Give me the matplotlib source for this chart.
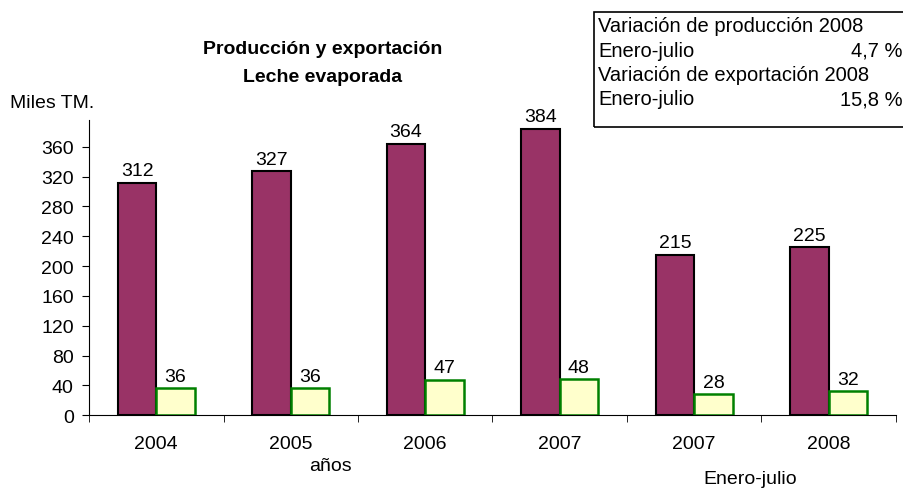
import matplotlib.pyplot as plt
import numpy as np

plt.rcParams["font.family"] = ["Liberation Sans", "DejaVu Sans"]

years = ["2004", "2005", "2006", "2007", "2007", "2008"]
produccion = [312, 327, 364, 384, 215, 225]
exportacion = [36, 36, 47, 48, 28, 32]
yticks = [0, 40, 80, 120, 160, 200, 240, 280, 320, 360]

fig = plt.figure(figsize=(9.04, 4.89), dpi=100)
ax = fig.add_axes([0.0985, 0.149, 0.8925, 0.6036])

x = np.arange(len(years))
w = 0.286
b1 = ax.bar(x - w / 2, produccion, w, color="#993366", edgecolor="black", linewidth=1.5)
b2 = ax.bar(x + w / 2, exportacion, w, color="#FFFFCC", edgecolor="#008000", linewidth=1.8)

for rect, v in zip(list(b1) + list(b2), produccion + exportacion):
    ax.text(rect.get_x() + rect.get_width() / 2, v + 5, str(v),
            ha="center", va="bottom", fontsize=14)

ax.set_xlim(-0.5, len(years) - 0.5)
ax.set_ylim(0, 396)
ax.set_yticks(yticks)
ax.tick_params(axis="y", labelsize=14, length=5, direction="out", pad=6)
ax.set_xticks(x)
ax.set_xticklabels(years)
ax.tick_params(axis="x", which="major", length=0, labelsize=14, pad=14)
ax.set_xticks(np.arange(len(years) + 1) - 0.5, minor=True)
ax.tick_params(axis="x", which="minor", length=5, direction="out")
for s in ["top", "right"]:
    ax.spines[s].set_visible(False)

fig.text(323 / 904, 1 - 50 / 489, "Producción y exportación", ha="center", va="center",
         fontsize=14, fontweight="bold")
fig.text(323 / 904, 1 - 77 / 489, "Leche evaporada", ha="center", va="center",
         fontsize=14, fontweight="bold")
fig.text(10 / 904, 1 - 103 / 489, "Miles TM.", ha="left", va="center", fontsize=14)
fig.text(330 / 904, 1 - 467 / 489, "años", ha="center", va="center", fontsize=14)
fig.text(750 / 904, 1 - 480 / 489, "Enero-julio", ha="center", va="center", fontsize=14)

# recuadro de variaciones
fig.patches.append(plt.Rectangle((594 / 904, 1 - 128 / 489), 320 / 904, 115 / 489,
                                 transform=fig.transFigure, fill=False,
                                 edgecolor="black", linewidth=1.2))
lines = [("Variación de producción 2008", ""), ("Enero-julio", "4,7 %"),
         ("Variación de exportación 2008", ""), ("Enero-julio", "15,8 %")]
for i, (left, right) in enumerate(lines):
    yy = 1 - (27 + 24.3 * i) / 489
    fig.text(598 / 904, yy, left, ha="left", va="center", fontsize=14.5)
    if right:
        fig.text(903 / 904, yy, right, ha="right", va="center", fontsize=14.5)

fig.savefig("out.png", dpi=100)
